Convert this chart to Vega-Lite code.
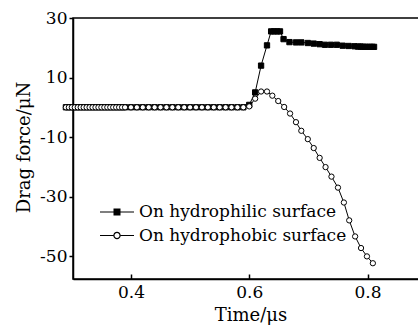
{
  "$schema": "https://vega.github.io/schema/vega-lite/v6.json",
  "width": 346,
  "height": 261,
  "autosize": {"type": "none"},
  "padding": {"left": 73, "top": 18, "right": 0, "bottom": 50},
  "background": "white",
  "config": {
    "view": {"stroke": "black", "strokeWidth": 1.5},
    "font": "DejaVu Serif",
    "axis": {
      "domainColor": "black", "domainWidth": 1.5,
      "tickColor": "black", "tickWidth": 1.5,
      "labelColor": "black", "labelFont": "DejaVu Serif", "labelFontSize": 17,
      "titleFont": "DejaVu Serif", "titleFontSize": 18, "titleFontWeight": "normal", "titleColor": "black",
      "grid": false
    }
  },
  "data": {"values": [
    {"t":0.29,"F":0,"s":"On hydrophilic surface"},{"t":0.295,"F":0,"s":"On hydrophilic surface"},{"t":0.30,"F":0,"s":"On hydrophilic surface"},{"t":0.305,"F":0,"s":"On hydrophilic surface"},{"t":0.31,"F":0,"s":"On hydrophilic surface"},{"t":0.315,"F":0,"s":"On hydrophilic surface"},{"t":0.32,"F":0,"s":"On hydrophilic surface"},{"t":0.325,"F":0,"s":"On hydrophilic surface"},{"t":0.33,"F":0,"s":"On hydrophilic surface"},{"t":0.335,"F":0,"s":"On hydrophilic surface"},{"t":0.34,"F":0,"s":"On hydrophilic surface"},{"t":0.345,"F":0,"s":"On hydrophilic surface"},{"t":0.35,"F":0,"s":"On hydrophilic surface"},{"t":0.355,"F":0,"s":"On hydrophilic surface"},{"t":0.36,"F":0,"s":"On hydrophilic surface"},{"t":0.365,"F":0,"s":"On hydrophilic surface"},{"t":0.37,"F":0,"s":"On hydrophilic surface"},{"t":0.375,"F":0,"s":"On hydrophilic surface"},{"t":0.38,"F":0,"s":"On hydrophilic surface"},{"t":0.385,"F":0,"s":"On hydrophilic surface"},
    {"t":0.39,"F":0,"s":"On hydrophilic surface"},{"t":0.40,"F":0,"s":"On hydrophilic surface"},{"t":0.41,"F":0,"s":"On hydrophilic surface"},{"t":0.42,"F":0,"s":"On hydrophilic surface"},{"t":0.43,"F":0,"s":"On hydrophilic surface"},{"t":0.44,"F":0,"s":"On hydrophilic surface"},{"t":0.45,"F":0,"s":"On hydrophilic surface"},{"t":0.46,"F":0,"s":"On hydrophilic surface"},{"t":0.47,"F":0,"s":"On hydrophilic surface"},{"t":0.48,"F":0,"s":"On hydrophilic surface"},{"t":0.49,"F":0,"s":"On hydrophilic surface"},{"t":0.50,"F":0,"s":"On hydrophilic surface"},{"t":0.51,"F":0,"s":"On hydrophilic surface"},{"t":0.52,"F":0,"s":"On hydrophilic surface"},{"t":0.53,"F":0,"s":"On hydrophilic surface"},{"t":0.54,"F":0,"s":"On hydrophilic surface"},{"t":0.55,"F":0,"s":"On hydrophilic surface"},{"t":0.56,"F":0,"s":"On hydrophilic surface"},{"t":0.57,"F":0,"s":"On hydrophilic surface"},{"t":0.58,"F":0,"s":"On hydrophilic surface"},{"t":0.59,"F":0,"s":"On hydrophilic surface"},
    {"t":0.60,"F":0.8,"s":"On hydrophilic surface"},{"t":0.61,"F":5.0,"s":"On hydrophilic surface"},{"t":0.62,"F":14.0,"s":"On hydrophilic surface"},{"t":0.63,"F":20.8,"s":"On hydrophilic surface"},{"t":0.637,"F":25.5,"s":"On hydrophilic surface"},{"t":0.642,"F":25.5,"s":"On hydrophilic surface"},{"t":0.647,"F":25.5,"s":"On hydrophilic surface"},{"t":0.652,"F":25.5,"s":"On hydrophilic surface"},{"t":0.658,"F":22.9,"s":"On hydrophilic surface"},{"t":0.668,"F":21.9,"s":"On hydrophilic surface"},{"t":0.679,"F":21.8,"s":"On hydrophilic surface"},{"t":0.688,"F":21.8,"s":"On hydrophilic surface"},{"t":0.699,"F":21.6,"s":"On hydrophilic surface"},{"t":0.709,"F":21.4,"s":"On hydrophilic surface"},{"t":0.719,"F":21.2,"s":"On hydrophilic surface"},{"t":0.728,"F":21.0,"s":"On hydrophilic surface"},{"t":0.738,"F":21.0,"s":"On hydrophilic surface"},{"t":0.748,"F":21.0,"s":"On hydrophilic surface"},{"t":0.758,"F":20.7,"s":"On hydrophilic surface"},{"t":0.768,"F":20.6,"s":"On hydrophilic surface"},{"t":0.778,"F":20.5,"s":"On hydrophilic surface"},{"t":0.784,"F":20.4,"s":"On hydrophilic surface"},{"t":0.788,"F":20.4,"s":"On hydrophilic surface"},{"t":0.792,"F":20.35,"s":"On hydrophilic surface"},{"t":0.796,"F":20.3,"s":"On hydrophilic surface"},{"t":0.80,"F":20.3,"s":"On hydrophilic surface"},{"t":0.804,"F":20.3,"s":"On hydrophilic surface"},{"t":0.808,"F":20.3,"s":"On hydrophilic surface"},{"t":0.811,"F":20.3,"s":"On hydrophilic surface"},
    {"t":0.29,"F":0,"s":"On hydrophobic surface"},{"t":0.295,"F":0,"s":"On hydrophobic surface"},{"t":0.30,"F":0,"s":"On hydrophobic surface"},{"t":0.305,"F":0,"s":"On hydrophobic surface"},{"t":0.31,"F":0,"s":"On hydrophobic surface"},{"t":0.315,"F":0,"s":"On hydrophobic surface"},{"t":0.32,"F":0,"s":"On hydrophobic surface"},{"t":0.325,"F":0,"s":"On hydrophobic surface"},{"t":0.33,"F":0,"s":"On hydrophobic surface"},{"t":0.335,"F":0,"s":"On hydrophobic surface"},{"t":0.34,"F":0,"s":"On hydrophobic surface"},{"t":0.345,"F":0,"s":"On hydrophobic surface"},{"t":0.35,"F":0,"s":"On hydrophobic surface"},{"t":0.355,"F":0,"s":"On hydrophobic surface"},{"t":0.36,"F":0,"s":"On hydrophobic surface"},{"t":0.365,"F":0,"s":"On hydrophobic surface"},{"t":0.37,"F":0,"s":"On hydrophobic surface"},{"t":0.375,"F":0,"s":"On hydrophobic surface"},{"t":0.38,"F":0,"s":"On hydrophobic surface"},{"t":0.385,"F":0,"s":"On hydrophobic surface"},
    {"t":0.39,"F":0,"s":"On hydrophobic surface"},{"t":0.40,"F":0,"s":"On hydrophobic surface"},{"t":0.41,"F":0,"s":"On hydrophobic surface"},{"t":0.42,"F":0,"s":"On hydrophobic surface"},{"t":0.43,"F":0,"s":"On hydrophobic surface"},{"t":0.44,"F":0,"s":"On hydrophobic surface"},{"t":0.45,"F":0,"s":"On hydrophobic surface"},{"t":0.46,"F":0,"s":"On hydrophobic surface"},{"t":0.47,"F":0,"s":"On hydrophobic surface"},{"t":0.48,"F":0,"s":"On hydrophobic surface"},{"t":0.49,"F":0,"s":"On hydrophobic surface"},{"t":0.50,"F":0,"s":"On hydrophobic surface"},{"t":0.51,"F":0,"s":"On hydrophobic surface"},{"t":0.52,"F":0,"s":"On hydrophobic surface"},{"t":0.53,"F":0,"s":"On hydrophobic surface"},{"t":0.54,"F":0,"s":"On hydrophobic surface"},{"t":0.55,"F":0,"s":"On hydrophobic surface"},{"t":0.56,"F":0,"s":"On hydrophobic surface"},{"t":0.57,"F":0,"s":"On hydrophobic surface"},{"t":0.58,"F":0,"s":"On hydrophobic surface"},{"t":0.59,"F":0,"s":"On hydrophobic surface"},
    {"t":0.60,"F":0.3,"s":"On hydrophobic surface"},{"t":0.61,"F":2.9,"s":"On hydrophobic surface"},{"t":0.62,"F":5.3,"s":"On hydrophobic surface"},{"t":0.63,"F":5.3,"s":"On hydrophobic surface"},{"t":0.639,"F":3.9,"s":"On hydrophobic surface"},{"t":0.649,"F":2.1,"s":"On hydrophobic surface"},{"t":0.659,"F":0.1,"s":"On hydrophobic surface"},{"t":0.669,"F":-2.1,"s":"On hydrophobic surface"},{"t":0.679,"F":-5.0,"s":"On hydrophobic surface"},{"t":0.688,"F":-7.9,"s":"On hydrophobic surface"},{"t":0.699,"F":-10.7,"s":"On hydrophobic surface"},{"t":0.709,"F":-13.7,"s":"On hydrophobic surface"},{"t":0.719,"F":-17.0,"s":"On hydrophobic surface"},{"t":0.729,"F":-20.1,"s":"On hydrophobic surface"},{"t":0.739,"F":-23.3,"s":"On hydrophobic surface"},{"t":0.75,"F":-27.0,"s":"On hydrophobic surface"},{"t":0.76,"F":-32.0,"s":"On hydrophobic surface"},{"t":0.769,"F":-38.0,"s":"On hydrophobic surface"},{"t":0.779,"F":-43.4,"s":"On hydrophobic surface"},{"t":0.789,"F":-47.3,"s":"On hydrophobic surface"},{"t":0.799,"F":-50.1,"s":"On hydrophobic surface"},{"t":0.809,"F":-52.4,"s":"On hydrophobic surface"}
  ]},
  "encoding": {
    "x": {"field": "t", "type": "quantitative",
      "scale": {"domain": [0.302, 0.887], "nice": false, "zero": false},
      "axis": {"values": [0.4, 0.6, 0.8], "format": ".1f", "tickSize": -5, "labelPadding": 10, "title": "Time/μs", "titleX": 177.5, "titleY": 27, "titleBaseline": "top"}},
    "y": {"field": "F", "type": "quantitative",
      "scale": {"domain": [-57.7, 30], "nice": false, "zero": false},
      "axis": {"values": [-50, -30, -10, 10, 30], "labelExpr": "'' + datum.value", "tickSize": 4, "labelPadding": 2, "title": "Drag force/μN", "titleX": -40, "titleY": 129}}
  },
  "layer": [
    {"mark": {"type": "line", "color": "black", "strokeWidth": 1},
     "encoding": {"detail": {"field": "s"}}},
    {"mark": {"type": "point", "filled": true, "stroke": "black", "strokeWidth": 1, "opacity": 1, "size": 28},
     "encoding": {
       "fill": {"field": "s", "type": "nominal", "scale": {"domain": ["On hydrophilic surface", "On hydrophobic surface"], "range": ["black", "white"]}, "legend": null},
       "shape": {"field": "s", "type": "nominal", "scale": {"domain": ["On hydrophilic surface", "On hydrophobic surface"], "range": ["square", "circle"]}, "legend": null}
     }},
    {"transform": [{"filter": "false"}],
     "mark": {"type": "point", "filled": true, "color": "black", "opacity": 1, "size": 400},
     "encoding": {
       "shape": {"field": "s", "type": "nominal",
         "scale": {"domain": ["On hydrophilic surface", "On hydrophobic surface"], "range": [
           "M-1.7,-0.06H1.7V0.06H-1.7Z M-0.35,-0.35H0.35V0.35H-0.35Z",
           "M-1.7,-0.06H-0.37V0.06H-1.7Z M0.37,-0.06H1.7V0.06H0.37Z M0.37,0C0.37,0.204,0.204,0.37,0,0.37C-0.204,0.37,-0.37,0.204,-0.37,0C-0.37,-0.204,-0.204,-0.37,0,-0.37C0.204,-0.37,0.37,-0.204,0.37,0Z M0.25,0C0.25,-0.138,0.138,-0.25,0,-0.25C-0.138,-0.25,-0.25,-0.138,-0.25,0C-0.25,0.138,-0.138,0.25,0,0.25C0.138,0.25,0.25,0.138,0.25,0Z"]},
         "legend": {"title": null, "orient": "none", "legendX": 34, "legendY": 184, "symbolSize": 400, "labelOffset": 12, "rowPadding": 5.5, "padding": 0, "labelLimit": 0, "labelFont": "DejaVu Serif", "labelFontSize": 17, "labelColor": "black", "symbolFillColor": "black", "symbolStrokeWidth": 0}}
     }}
  ],
  "resolve": {"scale": {"shape": "independent"}}
}
